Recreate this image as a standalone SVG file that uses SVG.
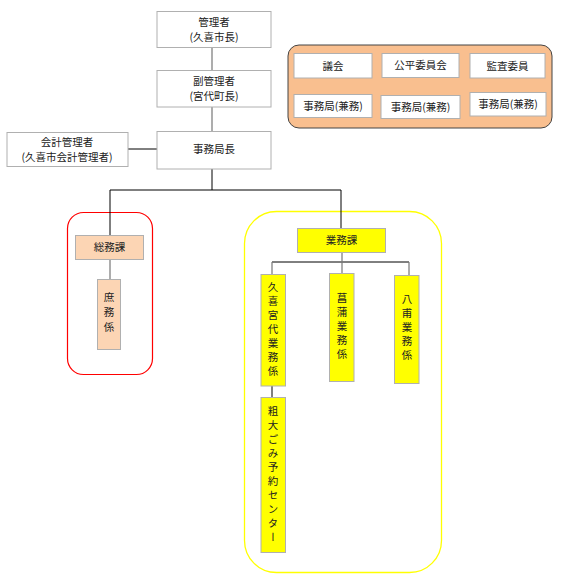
<svg xmlns="http://www.w3.org/2000/svg" width="563" height="583" viewBox="0 0 563 583">
<style>
text{font-family:"Noto Sans CJK JP","Liberation Sans",sans-serif;font-size:10.5px;fill:#222;text-anchor:middle}
.w{fill:#fff;stroke:#b0b0b0;stroke-width:1}
.o{fill:#fcd5b4;stroke:#b0b0b0;stroke-width:1}
.y{fill:#ffff00;stroke:#b0b0b0;stroke-width:1}
.v{writing-mode:vertical-rl;letter-spacing:3.5px;text-anchor:start}
.ln{stroke:#000;stroke-width:1;fill:none}
.lg{stroke:#777;stroke-width:1.2;fill:none}
</style>
<rect width="563" height="583" fill="#fff"/>
<g id="groups">
<rect x="288" y="45" width="264" height="83" rx="11" fill="#f9bf8f" stroke="#444" stroke-width="1"/>
<rect x="67.5" y="212.5" width="85" height="162" rx="16" fill="none" stroke="#ff0000" stroke-width="1.2"/>
<rect x="244.5" y="211.5" width="197" height="361" rx="32" fill="none" stroke="#ffff00" stroke-width="1.3"/>
</g>
<g id="connectors">
<path class="lg" d="M212 47V70M212 107V131"/>
<path class="ln" d="M128 149H157M212 169V190M110 190H341M341 190V228M110 190V235M272 262H409M272 386V397"/>
<path class="lg" d="M110 259V279M342 252V262M272 262V274M342 262V273M409 262V275"/>
</g>
<g id="n1"><rect class="w" x="157" y="11.5" width="114" height="36"/><text x="214" y="26">管理者</text><text x="214" y="41">(久喜市長)</text></g>
<g id="n2"><rect class="w" x="157" y="70.5" width="114" height="36.5"/><text x="214" y="85">副管理者</text><text x="214" y="100">(宮代町長)</text></g>
<g id="n3"><rect class="w" x="157" y="131.5" width="114" height="37.5"/><text x="214" y="153">事務局長</text></g>
<g id="n4"><rect class="w" x="7" y="132.5" width="121" height="34"/><text x="67" y="146">会計管理者</text><text x="67" y="161">(久喜市会計管理者)</text></g>
<g id="n5"><rect class="w" x="294" y="53.5" width="78" height="24.5"/><text x="333" y="70">議会</text></g>
<g id="n6"><rect class="w" x="382" y="53.5" width="77" height="24"/><text x="420.5" y="69">公平委員会</text></g>
<g id="n7"><rect class="w" x="470" y="53.5" width="75" height="24.5"/><text x="507.5" y="70">監査委員</text></g>
<g id="n8"><rect class="w" x="294" y="94.5" width="78" height="23"/><text x="333" y="110">事務局(兼務)</text></g>
<g id="n9"><rect class="w" x="381" y="95.5" width="79" height="23"/><text x="420.5" y="111">事務局(兼務)</text></g>
<g id="n10"><rect class="w" x="470" y="92.5" width="76" height="23.5"/><text x="508" y="108">事務局(兼務)</text></g>
<g id="n11"><rect class="o" x="75.5" y="235.5" width="68" height="24"/><text x="109.5" y="251">総務課</text></g>
<g id="n12"><rect class="o" x="97.5" y="279.5" width="23" height="70"/><text class="v" x="109" y="292" style="letter-spacing:4.5px">庶務係</text></g>
<g id="n13"><rect class="y" x="297.5" y="228.5" width="88" height="24"/><text x="341.5" y="244">業務課</text></g>
<g id="n14"><rect class="y" x="261" y="274.5" width="24.5" height="111.5"/><text class="v" x="273" y="282">久喜宮代業務係</text></g>
<g id="n15"><rect class="y" x="329.5" y="273.5" width="24.5" height="108"/><text class="v" x="342" y="293">菖蒲業務係</text></g>
<g id="n16"><rect class="y" x="394.5" y="275.5" width="24.5" height="108"/><text class="v" x="407" y="294">八甫業務係</text></g>
<g id="n17"><rect class="y" x="261" y="397.5" width="24.5" height="155"/><text class="v" x="273" y="406">粗大ごみ予約センター</text></g>
</svg>
